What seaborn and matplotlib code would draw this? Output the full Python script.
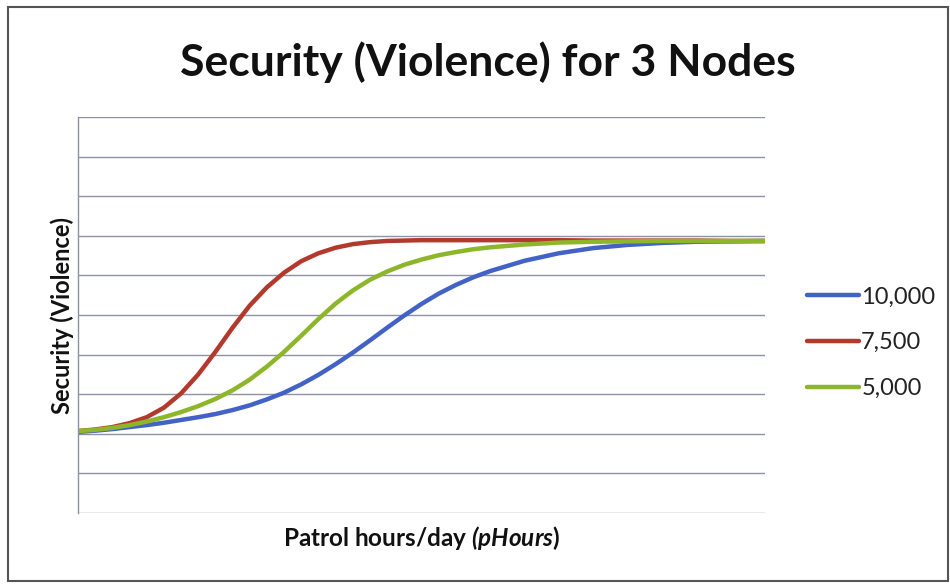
import numpy as np
import pandas as pd
import matplotlib
matplotlib.use("Agg")
import matplotlib.pyplot as plt
from matplotlib.patches import Rectangle
import seaborn as sns

# x positions (no tick labels in the source, so a 0-100 scale)
hours = [0, 2.5, 5, 7.5, 10, 12.5, 15, 17.5, 20, 22.5, 25, 27.5, 30, 32.5, 35,
         37.5, 40, 42.5, 45, 47.5, 50, 52.5, 55, 57.5, 60,
         65, 70, 75, 80, 85, 90, 95, 100]

sec_10000 = [2.05, 2.08, 2.12, 2.17, 2.22, 2.28, 2.35, 2.42, 2.50, 2.60, 2.72, 2.87,
             3.04, 3.25, 3.49, 3.76, 4.05, 4.36, 4.68, 4.99, 5.28, 5.54, 5.76, 5.95,
             6.11, 6.37, 6.56, 6.69, 6.77, 6.82, 6.85, 6.86, 6.87]
sec_7500 = [2.07, 2.11, 2.17, 2.27, 2.42, 2.66, 3.02, 3.50, 4.07, 4.68, 5.24, 5.70,
            6.07, 6.36, 6.56, 6.70, 6.79, 6.84, 6.87, 6.88, 6.89, 6.89, 6.89, 6.89,
            6.89, 6.89, 6.89, 6.88, 6.88, 6.88, 6.88, 6.87, 6.87]
sec_5000 = [2.07, 2.10, 2.15, 2.22, 2.31, 2.42, 2.55, 2.70, 2.88, 3.10, 3.37, 3.70,
            4.07, 4.48, 4.90, 5.29, 5.62, 5.89, 6.10, 6.27, 6.40, 6.51, 6.59, 6.66,
            6.71, 6.78, 6.83, 6.85, 6.86, 6.87, 6.87, 6.87, 6.87]

series_names = ["10,000", "7,500", "5,000"]
colors = ["#4262c6", "#b23a2c", "#8db62c"]

df = pd.concat([
    pd.DataFrame({"hours": hours, "security": sec_10000, "nodes": "10,000"}),
    pd.DataFrame({"hours": hours, "security": sec_7500, "nodes": "7,500"}),
    pd.DataFrame({"hours": hours, "security": sec_5000, "nodes": "5,000"}),
], ignore_index=True)

sns.set_theme(style="white")
plt.rcParams['font.family'] = ['Lato', 'DejaVu Sans']
plt.rcParams['mathtext.fontset'] = 'custom'
plt.rcParams['mathtext.rm'] = 'Lato:bold:italic'
plt.rcParams['mathtext.it'] = 'Lato:bold:italic'

fig = plt.figure(figsize=(9.5, 5.85), dpi=100)
ax = fig.add_axes([0.0821, 0.123, 0.7232, 0.677])

sns.lineplot(data=df, x="hours", y="security", hue="nodes", hue_order=series_names,
             palette=colors, linewidth=3.2, ax=ax)
for ln in ax.lines:
    ln.set_solid_joinstyle("round")

ax.set_xlim(0, 100)
ax.set_ylim(0, 10)
ax.set_yticks(range(0, 11))
ax.set_xticks([])
ax.tick_params(left=False, labelleft=False)
ax.grid(axis="y", color="#8e92a8", linewidth=1.0)
for side in ["top", "right", "bottom"]:
    ax.spines[side].set_visible(False)
ax.spines["left"].set_color("#8e92a8")
ax.spines["left"].set_linewidth(1.0)

ax.set_xlabel(r"Patrol hours/day $\mathit{(pHours}$)", fontsize=17.5, fontweight="bold",
              color="#111111", labelpad=8)
ax.set_ylabel("Security (Violence)", fontsize=17, fontweight="bold",
              color="#111111", labelpad=3)

fig.text(0.513, 0.893, "Security (Violence) for 3 Nodes", ha="center", va="center",
         fontsize=32, fontweight="bold", color="#111111")

ax.legend(loc="center left", bbox_to_anchor=(1.03, 0.43), frameon=False,
          fontsize=17, handlelength=2.2, handletextpad=0.1, labelspacing=1.05,
          labelcolor="#222222")

fig.patches.append(Rectangle((0.008, 0.006), 0.99, 0.982, transform=fig.transFigure,
                             fill=False, edgecolor="#555555", linewidth=1.5))

fig.savefig("out.png", dpi=100)
